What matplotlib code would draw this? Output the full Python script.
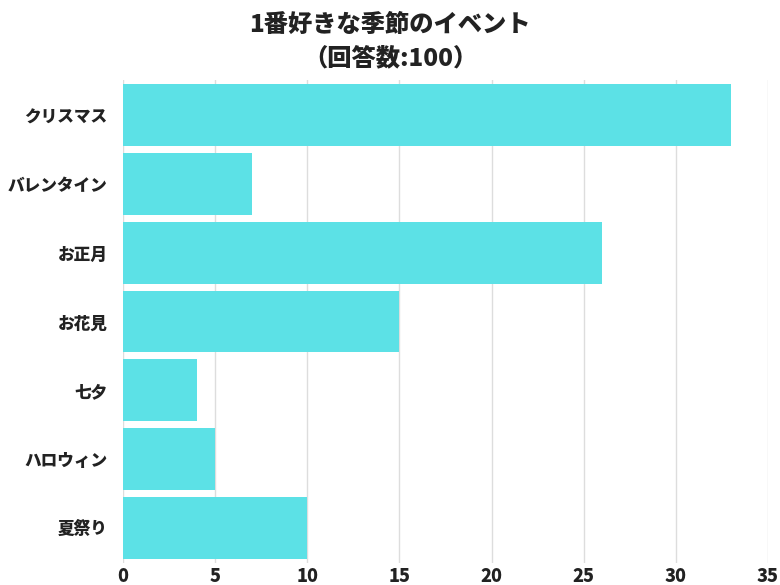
import matplotlib
matplotlib.use("Agg")
import matplotlib.pyplot as plt

categories = ["クリスマス", "バレンタイン", "お正月", "お花見", "七夕", "ハロウィン", "夏祭り"]
values = [33, 7, 26, 15, 4, 5, 10]
xticks = [0, 5, 10, 15, 20, 25, 30, 35]
title1 = "1番好きな季節のイベント"
title2 = "（回答数:100）"

plt.rcParams['font.family'] = ['Noto Sans CJK JP', 'DejaVu Sans']

fig = plt.figure(figsize=(7.8, 5.85), dpi=100)
ax = fig.add_axes([123/780, 1-563/585, (768-123)/780, (563-80)/585])

ypos = list(range(len(categories)))
ax.barh(ypos, values, height=0.9, color="#5CE1E6", zorder=3)
ax.set_ylim(len(categories)-0.5+0.015, -0.5-0.015)
ax.set_xlim(0, 35)
ax.set_yticks(ypos)
ax.set_yticklabels(categories, fontsize=12, fontweight='heavy', color='#222222')
ax.set_xticks(xticks)
ax.set_xticklabels([str(t) for t in xticks], fontsize=13, fontweight='heavy', color='#222222')
ax.tick_params(axis='y', length=0, pad=11)
ax.tick_params(axis='x', length=0, pad=3)
ax.grid(axis='x', color='#dddddd', linewidth=1, zorder=0)
for s in ax.spines.values():
    s.set_visible(False)

fig.text(0.5, 1-25/585, title1, ha='center', va='center', fontsize=17.5, fontweight='heavy', color='#222222')
fig.text(0.5, 1-58/585, title2, ha='center', va='center', fontsize=17.5, fontweight='heavy', color='#222222')

fig.savefig("out.png", dpi=100, facecolor='white')
